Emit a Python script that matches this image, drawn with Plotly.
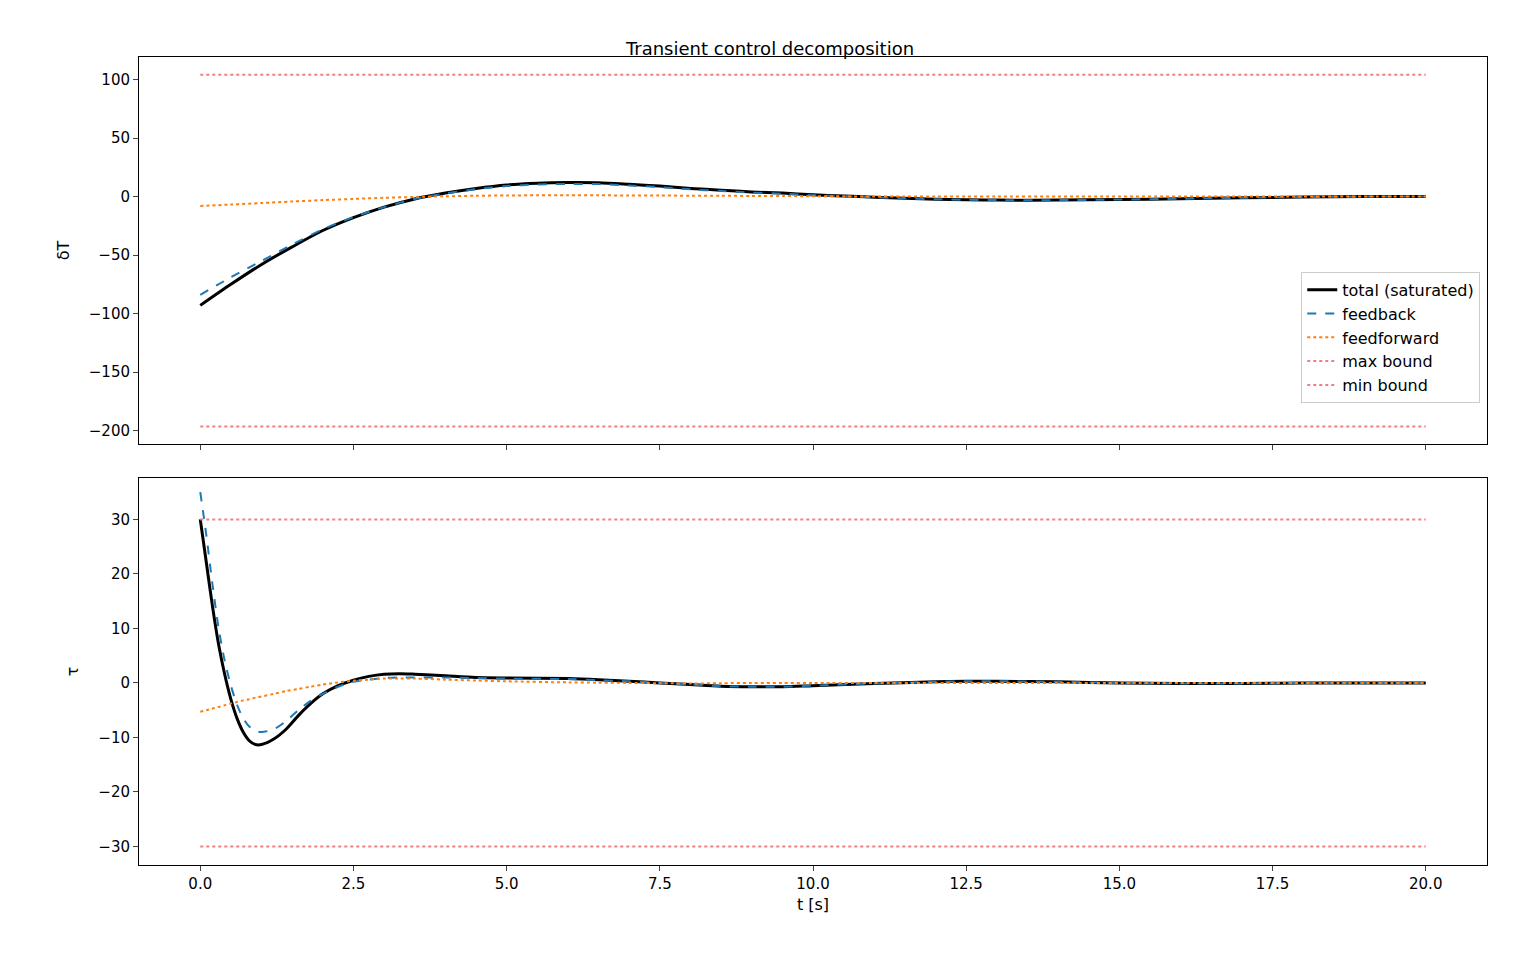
import plotly.graph_objects as go
from plotly.subplots import make_subplots

t_top = [0,0.5,1,1.5,2,2.5,3,3.5,4,4.5,5,5.5,6,6.5,7,7.5,8,8.5,9,9.5,10,10.5,11,11.5,12,12.5,13,14,15,16,17,18,19,20]
dT_total = [-93,-75,-58,-43,-29,-18,-9,-2,3,7,10,11.5,12,11.8,10.5,9,7,5.5,4,3,1.5,0.5,-0.5,-1.5,-2.2,-2.7,-3,-3,-2.5,-1.8,-1,-0.4,0,0.2]
dT_ff = [-8,-6.8,-5.5,-4.2,-3,-2,-1,-0.3,0.3,0.7,1,1.1,1.2,1.1,1,0.9,0.8,0.7,0.6,0.5,0.3,0.2,0.1,0,0,0,0,0,0,0,0,0,0,0]
dT_fb = [-84,-69,-55,-41,-28,-17.5,-9,-2,2.7,6.3,9,10.4,10.8,10.7,9.5,8.1,6.2,4.8,3.4,2.5,1.2,0.3,-0.6,-1.5,-2.2,-2.7,-3,-3,-2.5,-1.8,-1,-0.4,0,0.2]
dT_max, dT_min = 104.3, -196.6

t_bot = [0,0.1,0.2,0.3,0.4,0.5,0.6,0.7,0.8,0.9,1.0,1.2,1.4,1.6,1.8,2,2.25,2.5,2.75,3,3.25,3.5,4,4.5,5,6,6.5,7,7.5,8,8.5,9,9.5,10,11,12,12.5,13,14,15,16,17,18,20]
tau_total = [30,22,14,7,1.5,-3,-6.5,-9,-10.6,-11.3,-11.3,-10.3,-8.5,-6,-3.8,-2,-0.5,0.5,1.2,1.6,1.7,1.6,1.3,1.0,0.9,0.8,0.6,0.3,0,-0.3,-0.6,-0.7,-0.7,-0.5,-0.1,0.2,0.3,0.3,0.2,0,-0.1,-0.1,0,0]
tau_fb = [35,27,18,10,4,-0.5,-4,-6.5,-8,-8.8,-9,-8.5,-7,-5,-3.3,-2,-0.7,0.2,0.6,0.9,1.0,1.0,1.0,0.9,0.8,0.7,0.5,0.3,0,-0.3,-0.6,-0.7,-0.7,-0.5,-0.1,0.2,0.3,0.3,0.2,0,-0.1,-0.1,0,0]
tau_ff = [-5.3,-5.0,-4.7,-4.4,-4.1,-3.8,-3.5,-3.2,-3.0,-2.7,-2.5,-2.0,-1.5,-1.1,-0.7,-0.3,0.1,0.4,0.6,0.8,0.8,0.8,0.6,0.45,0.3,0.1,0.05,0,-0.05,-0.1,-0.05,0,0,0,0,0,0,0,0,0,0,0,0,0]
tau_max, tau_min = 30, -30
t_range = [0, 20]

fig = make_subplots(rows=2, cols=1, shared_xaxes=True, vertical_spacing=0.042)
bc = 'rgba(240,128,128,1)'
def add(row, t, tot, fb, ff, mx, mn, show):
    fig.add_trace(go.Scatter(x=t, y=tot, mode='lines', name='total (saturated)', line=dict(color='black', width=3, shape='spline', smoothing=0.8), showlegend=show), row=row, col=1)
    fig.add_trace(go.Scatter(x=t, y=fb, mode='lines', name='feedback', line=dict(color='#1f77b4', width=2, dash='dash', shape='spline', smoothing=0.8), showlegend=show), row=row, col=1)
    fig.add_trace(go.Scatter(x=t, y=ff, mode='lines', name='feedforward', line=dict(color='#ff7f0e', width=2, dash='dot', shape='spline', smoothing=0.8), showlegend=show), row=row, col=1)
    fig.add_trace(go.Scatter(x=t_range, y=[mx, mx], mode='lines', name='max bound', line=dict(color=bc, width=2, dash='dot'), showlegend=show), row=row, col=1)
    fig.add_trace(go.Scatter(x=t_range, y=[mn, mn], mode='lines', name='min bound', line=dict(color=bc, width=2, dash='dot'), showlegend=show), row=row, col=1)
add(1, t_top, dT_total, dT_fb, dT_ff, dT_max, dT_min, True)
add(2, t_bot, tau_total, tau_fb, tau_ff, tau_max, tau_min, False)

ax = dict(showline=True, mirror=True, linecolor='black', linewidth=1, ticks='outside', showgrid=False, zeroline=False, tickfont=dict(size=15), ticklen=5)
fig.update_xaxes(**ax, range=[-1, 21], tickvals=[0,2.5,5,7.5,10,12.5,15,17.5,20], tickformat='.1f')
fig.update_xaxes(showticklabels=False, row=1, col=1)
fig.update_xaxes(title_text='t [s]', title_font=dict(size=16), title_standoff=6, row=2, col=1)
fig.update_yaxes(**ax)
fig.update_yaxes(range=[-211.6, 119.4], tickvals=[-200,-150,-100,-50,0,50,100], title_text='δT', title_font=dict(size=16), row=1, col=1)
fig.update_yaxes(range=[-33.4, 37.6], tickvals=[-30,-20,-10,0,10,20,30], title_text='τ', title_font=dict(size=16), row=2, col=1)
fig.update_layout(width=1524, height=965, plot_bgcolor='white', paper_bgcolor='white',
    font=dict(family='DejaVu Sans', color='black'),
    margin=dict(l=131, r=45, t=49, b=108),
    title=dict(text='Transient control decomposition', x=0.5, xanchor='center', y=0.958, yanchor='middle', font=dict(size=18)),
    legend=dict(x=0.995, y=0.572, xanchor='right', yanchor='bottom', bordercolor='#cccccc', borderwidth=1, font=dict(size=16), bgcolor='white'))
fig.write_html('out.html')
